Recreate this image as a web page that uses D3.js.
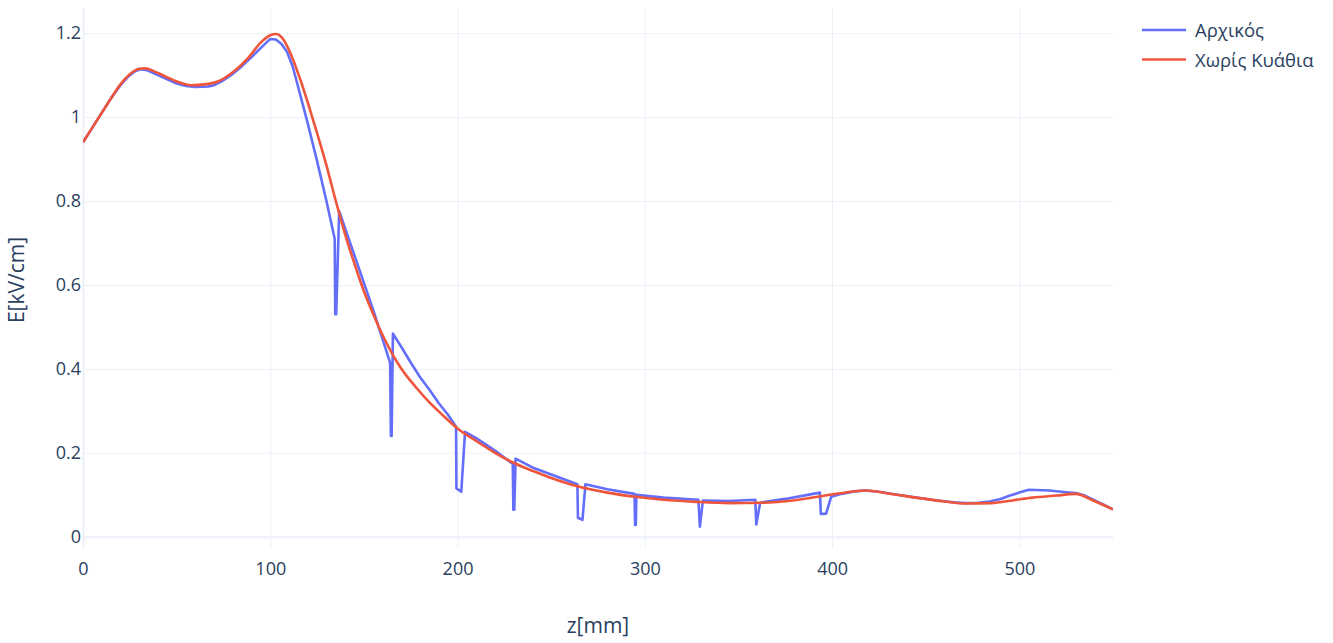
<!DOCTYPE html>
<html><head><meta charset="utf-8">
<script src="https://cdn.jsdelivr.net/npm/d3@7"></script>
<style>
html,body{margin:0;padding:0;background:#fff;}
svg{display:block;font-family:"Open Sans",sans-serif;}
</style></head>
<body>
<svg id="chart" width="1333" height="643"></svg>
<script>
const seriesNames = ["Αρχικός", "Χωρίς Κυάθια"];
const seriesColors = ["#636efa", "#EF553B"];
const xTicks = [0, 100, 200, 300, 400, 500];
const yTicks = [0, 0.2, 0.4, 0.6, 0.8, 1, 1.2];
const yTickLabels = ["0", "0.2", "0.4", "0.6", "0.8", "1", "1.2"];
const xTitle = "z[mm]";
const yTitle = "E[kV/cm]";

const zBlue = [0,5,10,15,20,24,28,31,34,40,45,50,55,60,67,70,74,80,85,90,95,98,100,103,106,109,112,115,120,125,130,134.4,134.7,135.2,136.8,145,150,155,160,164,164.4,164.8,165.5,170,175,180,185,190,195,199.2,199.4,202,204,210,220,229.5,229.8,230.3,231,240,250,264,264.3,266.7,268.3,280,294.5,294.8,295.2,295.5,310,328.6,329.4,331,345,359,359.5,361.6,375,393.5,394,396.8,399.5,405,412,418,425,435,445,455,465,471,478,484,490,495,500,505,516,525,530,535,540,545,550];
const eBlue = [0.94,0.975,1.01,1.045,1.076,1.096,1.11,1.114,1.112,1.1,1.09,1.08,1.074,1.072,1.073,1.076,1.085,1.103,1.122,1.143,1.165,1.178,1.186,1.185,1.174,1.155,1.12,1.07,0.985,0.895,0.8,0.71,0.53,0.53,0.776,0.67,0.605,0.54,0.47,0.414,0.24,0.24,0.484,0.452,0.415,0.38,0.35,0.318,0.29,0.262,0.115,0.107,0.25,0.235,0.205,0.173,0.064,0.064,0.186,0.165,0.148,0.125,0.045,0.04,0.125,0.113,0.102,0.028,0.028,0.1,0.093,0.088,0.024,0.086,0.085,0.088,0.029,0.081,0.09,0.105,0.054,0.055,0.095,0.102,0.108,0.11,0.107,0.1,0.093,0.087,0.082,0.08,0.081,0.084,0.09,0.098,0.105,0.112,0.11,0.106,0.104,0.098,0.087,0.076,0.065];

const zRed = [0,5,10,15,20,25,30,33,40,50,58,65,72,80,88,95,100,103,107,110,116,120,125,130,135,140,145,150,155,160,165,170,178,185,192,200,210,220,229,240,250,265,280,295,310,327,345,363,380,395,408,418,430,445,460,471,485,497,507,520,530,540,550];
const eRed = [0.94,0.975,1.01,1.045,1.078,1.102,1.115,1.116,1.105,1.085,1.076,1.078,1.085,1.107,1.14,1.178,1.195,1.198,1.185,1.16,1.09,1.035,0.962,0.885,0.8,0.72,0.65,0.585,0.53,0.48,0.437,0.4,0.355,0.32,0.29,0.258,0.228,0.2,0.178,0.157,0.14,0.119,0.105,0.095,0.088,0.083,0.08,0.081,0.087,0.097,0.106,0.11,0.103,0.093,0.084,0.079,0.08,0.087,0.093,0.098,0.102,0.085,0.065];

const W = 1333, H = 643;
const m = {l: 83, t: 8, r: 220, b: 95};
const pw = W - m.l - m.r, ph = H - m.t - m.b;
const svg = d3.select("#chart");
const x = d3.scaleLinear().domain([0, 550]).range([m.l, m.l + pw]);
const y = d3.scaleLinear().domain([-0.027, 1.26]).range([m.t + ph, m.t]);
const grid = "#EBF0F8", txt = "#2a3f5f";
const tickFont = 18;

const g = svg.append("g");
// grid
g.append("g").attr("transform", `translate(0,${m.t + ph})`)
  .call(d3.axisBottom(x).tickValues(xTicks).tickSize(-ph).tickFormat(""))
  .call(a => { a.select(".domain").remove(); a.selectAll("line").attr("stroke", grid).attr("stroke-width", (d) => d === 0 ? 2 : 1); });
g.append("g").attr("transform", `translate(${m.l},0)`)
  .call(d3.axisLeft(y).tickValues(yTicks).tickSize(-pw).tickFormat(""))
  .call(a => { a.select(".domain").remove(); a.selectAll("line").attr("stroke", grid).attr("stroke-width", (d) => d === 0 ? 2 : 1); });

// tick labels
g.append("g").attr("transform", `translate(0,${m.t + ph})`)
  .call(d3.axisBottom(x).tickValues(xTicks).tickSize(0).tickPadding(14).tickFormat(d3.format("d")))
  .call(a => { a.select(".domain").remove(); a.selectAll("text").attr("fill", txt).attr("font-size", tickFont).attr("font-family", "Open Sans"); });
g.append("g").attr("transform", `translate(${m.l},0)`)
  .call(d3.axisLeft(y).tickValues(yTicks).tickSize(0).tickPadding(2).tickFormat((d, i) => yTickLabels[i]))
  .call(a => { a.select(".domain").remove(); a.selectAll("text").attr("fill", txt).attr("font-size", tickFont).attr("font-family", "Open Sans"); });

// titles
svg.append("text").attr("x", m.l + pw / 2).attr("y", 633).attr("text-anchor", "middle")
  .attr("fill", txt).attr("font-size", 21).text(xTitle);
svg.append("text").attr("transform", `translate(24,280) rotate(-90)`).attr("text-anchor", "middle")
  .attr("fill", txt).attr("font-size", 21).text(yTitle);

// lines
const clipId = "clip";
svg.append("clipPath").attr("id", clipId).append("rect").attr("x", m.l).attr("y", m.t).attr("width", pw).attr("height", ph);
const lineLin = d3.line().x(d => x(d[0])).y(d => y(d[1]));
const lineSmooth = d3.line().x(d => x(d[0])).y(d => y(d[1])).curve(d3.curveMonotoneX);
const blue = zBlue.map((z, i) => [z, eBlue[i]]);
const red = zRed.map((z, i) => [z, eRed[i]]);
const lg = svg.append("g").attr("clip-path", `url(#${clipId})`);
lg.append("path").datum(blue).attr("d", lineLin).attr("fill", "none")
  .attr("stroke", seriesColors[0]).attr("stroke-width", 2.6).attr("stroke-linejoin", "round");
lg.append("path").datum(red).attr("d", lineSmooth).attr("fill", "none")
  .attr("stroke", seriesColors[1]).attr("stroke-width", 2.6).attr("stroke-linejoin", "round");

// legend
const leg = svg.append("g");
seriesNames.forEach((n, i) => {
  const yy = 30 + i * 29.5;
  leg.append("line").attr("x1", 1142).attr("x2", 1186).attr("y1", yy).attr("y2", yy)
    .attr("stroke", seriesColors[i]).attr("stroke-width", 2.6);
  leg.append("text").attr("x", 1195).attr("y", yy + 7).attr("fill", txt).attr("font-size", 18.5).text(n);
});
</script>
</body></html>
